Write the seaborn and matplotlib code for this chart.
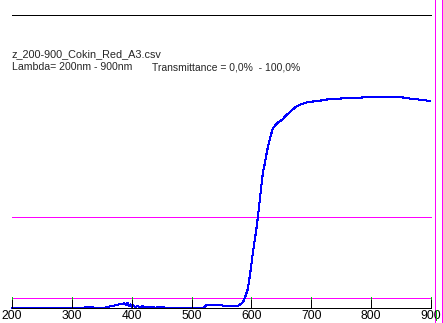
import matplotlib
matplotlib.use("Agg")
import matplotlib.pyplot as plt
import seaborn as sns
import pandas as pd

# ---- data ----
wavelength = [200, 320, 324, 328, 332, 336, 340, 360, 364, 368, 372, 376, 380, 384,
              388, 391, 393, 395, 398, 400, 403, 406, 410, 414, 418, 422, 426, 430,
              436, 440, 444, 448, 452, 456, 460, 520, 522, 524, 528, 535, 545, 551,
              556, 565, 572, 578, 582, 586, 590, 594, 598, 603, 609, 614, 619, 623,
              626, 631, 636, 643, 651, 659, 668, 676, 684, 694, 710, 731, 770, 803,
              848, 870, 887, 898]
transmittance = [0, 0, 0.4, 0.3, 0.5, 0.1, 0, 0.2, 0.6, 0.7, 0.9, 1.1, 1.3, 1.4,
                 1.6, 1.0, 1.8, 0.6, 1.2, 0.5, 0.9, 0.3, 0.7, 0.2, 0.6, 0.1, 0.5, 0.1,
                 0.3, 0, 0.4, 0.1, 0.3, 0, 0, 0, 0.5, 0.9, 1.0, 1.0, 1.0, 0.9,
                 0.7, 0.7, 0.7, 0.8, 1.3, 2.0, 4.0, 6.5, 11.9, 19.8, 28.0, 37.0, 46.0, 50.0,
                 53.5, 58.0, 61.4, 63.1, 64.2, 65.9, 67.6, 68.9, 69.6, 70.3, 70.6, 71.3, 71.7, 72.0,
                 72.0, 71.3, 71.0, 70.6]
tick_values = [200, 300, 400, 500, 600, 700, 800, 900]
tick_labels = ["200", "300", "400", "500", "600", "700", "800", "900"]
file_label = "z_200-900_Cokin_Red_A3.csv"
range_label = "Lambda= 200nm - 900nm"
trans_label = "Transmittance = 0,0%  - 100,0%"
ref_levels = [31.06, 3.41]   # magenta reference lines (%)
top_level = 100

df = pd.DataFrame({"wl": wavelength, "T": transmittance})

sns.set_style("white")
plt.rcParams["font.family"] = ["Liberation Sans", "DejaVu Sans"]

W, H = 443, 323
fig = plt.figure(figsize=(W / 100, H / 100), dpi=100)
ax = fig.add_axes([0, 0, 1, 1])
ax.set_xlim(179.95, 920.0)
ax.set_ylim(-5.12, 105.1)
ax.axis("off")

lw = 0.72
magenta = "#ff00ff"

sns.lineplot(data=df, x="wl", y="T", color="#0000ff", linewidth=0.75, ax=ax,
             antialiased=False, zorder=3)

# top 100% line
ax.hlines(top_level, 200, 900, color="black", linewidth=lw, antialiased=False, zorder=2)
# magenta reference lines
for lv in ref_levels:
    ax.hlines(lv, 200, 900, color=magenta, linewidth=lw, antialiased=False, zorder=2)
# baseline
ax.hlines(0, 200, 900, color="black", linewidth=lw, antialiased=False, zorder=4)
# ticks
ax.vlines(tick_values, 0, ref_levels[1], color="black", linewidth=lw,
          antialiased=False, zorder=4)
ax.vlines(tick_values, ref_levels[1] - 0.3, ref_levels[1] + 0.3, color="#00c000",
          linewidth=lw, antialiased=False, zorder=5)
for v, lab in zip(tick_values, tick_labels):
    ax.text(v, -2.6, lab, ha="center", va="center", fontsize=8.7, color="black")

# right-side magenta verticals
for px in (435, 441.5):
    ax.axvline(179.95 + px / W * 740.05, color=magenta, linewidth=lw,
               antialiased=False, zorder=2)
ax.vlines(179.95 + 436 / W * 740.05, -4.2, -0.8, color="#00c000", linewidth=lw,
          antialiased=False, zorder=5)

# header text
ax.text(12 / W, 1 - 57 / H, file_label, transform=ax.transAxes, ha="left",
        va="baseline", fontsize=7.8)
ax.text(12 / W, 1 - 70.5 / H, range_label, transform=ax.transAxes, ha="left",
        va="baseline", fontsize=7.6)
ax.text(151.7 / W, 1 - 70.5 / H, trans_label, transform=ax.transAxes, ha="left",
        va="baseline", fontsize=7.5)

fig.savefig("out.png", dpi=100, facecolor="white")
